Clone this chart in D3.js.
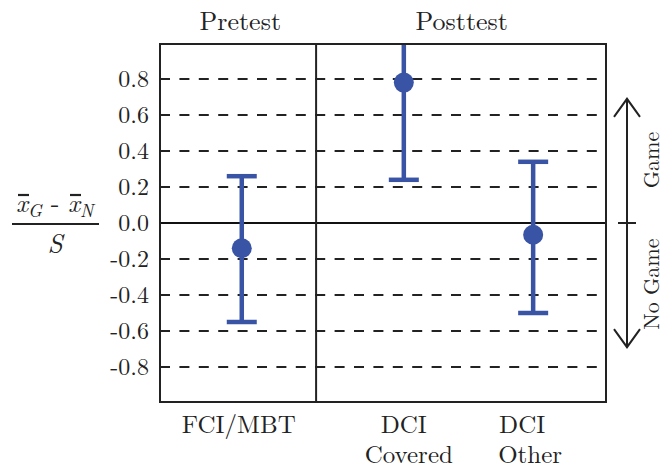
<!DOCTYPE html>
<html><head><meta charset="utf-8">
<script src="https://cdn.jsdelivr.net/npm/d3@7"></script>
<style>body{margin:0;background:#fff}svg{display:block}</style>
</head><body><svg id="c" width="665" height="469"></svg>
<script>
const categories = ["FCI/MBT", "DCI Covered", "DCI Other"];
const catLines = [["FCI/MBT"], ["DCI", "Covered"], ["DCI", "Other"]];
const catX = [1.05, 2.14, 3.01];
const means = [-0.14, 0.78, -0.065];
const lower = [-0.55, 0.24, -0.50];
const upper = [0.26, 1.32, 0.34];
const yTicks = [-0.8, -0.6, -0.4, -0.2, 0.0, 0.2, 0.4, 0.6, 0.8];
const panels = ["Pretest", "Posttest"];
const panelCenters = [1.04, 2.53];

const FONT = "'Latin Modern Roman'";
const svg = d3.select("#c");
const L = 160, R = 606, T = 43, B = 403;
const x = d3.scaleLinear().domain([0.5, 3.5]).range([L, R]);
const y = d3.scaleLinear().domain([-1, 1]).range([B, T]);
const blue = "#3953a5", ink = "#222";

svg.append("defs").append("clipPath").attr("id", "pc")
  .append("rect").attr("x", L).attr("y", T).attr("width", R - L).attr("height", B - T);

// dashed grid lines
svg.append("g").selectAll("line").data(yTicks.filter(d => d !== 0)).join("line")
  .attr("x1", L).attr("x2", R).attr("y1", d => y(d)).attr("y2", d => y(d))
  .attr("stroke", ink).attr("stroke-width", 2).attr("stroke-dasharray", "10,9.4");
// zero line
svg.append("line").attr("x1", L).attr("x2", R).attr("y1", y(0)).attr("y2", y(0))
  .attr("stroke", "#111").attr("stroke-width", 2);

// y axis tick labels
const yAxis = d3.axisLeft(y).tickValues(yTicks).tickFormat(d3.format(".1f")).tickSize(0).tickPadding(11);
const ga = svg.append("g").attr("transform", `translate(${L},0)`).call(yAxis);
ga.attr("font-family", null).attr("font-size", null);
ga.select(".domain").remove();
ga.selectAll("text").style("font-family", FONT).style("font-size", "24px").attr("fill", ink)
  .text(d => d3.format(".1f")(d).replace("−", "-"));

// error bars
const data = categories.map((c, i) => ({c, x: catX[i], m: means[i], lo: lower[i], hi: upper[i]}));
const g = svg.append("g").attr("clip-path", "url(#pc)");
g.selectAll(".v").data(data).join("line")
  .attr("x1", d => x(d.x)).attr("x2", d => x(d.x)).attr("y1", d => y(d.lo)).attr("y2", d => y(d.hi))
  .attr("stroke", blue).attr("stroke-width", 4.5);
const caps = data.flatMap(d => [{x: d.x, v: d.lo}, {x: d.x, v: d.hi}]);
g.selectAll(".cap").data(caps).join("line")
  .attr("x1", d => x(d.x) - 15).attr("x2", d => x(d.x) + 15).attr("y1", d => y(d.v)).attr("y2", d => y(d.v))
  .attr("stroke", blue).attr("stroke-width", 4.5);
g.selectAll("circle").data(data).join("circle")
  .attr("cx", d => x(d.x)).attr("cy", d => y(d.m)).attr("r", 10).attr("fill", blue);

// frame and panel divider
svg.append("rect").attr("x", L).attr("y", T + 1).attr("width", R - L).attr("height", B - T - 2)
  .attr("fill", "none").attr("stroke", ink).attr("stroke-width", 2);
svg.append("line").attr("x1", x(1.55)).attr("x2", x(1.55)).attr("y1", T).attr("y2", B)
  .attr("stroke", ink).attr("stroke-width", 2);

const txt = (sel) => sel.style("font-family", FONT).attr("fill", ink);

// panel titles
svg.selectAll(".pt").data(panels).join("text").call(txt)
  .attr("x", (d, i) => x(panelCenters[i])).attr("y", 30)
  .attr("text-anchor", "middle").style("font-size", "26px").text(d => d);

// category labels (line offsets in px)
const lineDx = [[-3], [0, 5], [-11, -3]];
data.forEach((d, i) => {
  catLines[i].forEach((s, j) => {
    svg.append("text").call(txt).attr("x", x(d.x) + lineDx[i][j]).attr("y", 433 + j * 30)
      .attr("text-anchor", "middle").style("font-size", "25px").text(s);
  });
});

// y label fraction
const fl = svg.append("g");
fl.append("line").attr("x1", 12).attr("x2", 99).attr("y1", 224).attr("y2", 224).attr("stroke", ink).attr("stroke-width", 1.8);
const num = fl.append("text").call(txt).attr("x", 16).attr("y", 212).attr("text-anchor", "start").style("font-size", "26px");
num.append("tspan").attr("font-style", "italic").text("x");
num.append("tspan").attr("font-style", "italic").style("font-size", "18px").attr("dy", 5).text("G");
num.append("tspan").attr("dy", -5).text(" - ");
num.append("tspan").attr("font-style", "italic").text("x");
num.append("tspan").attr("font-style", "italic").style("font-size", "18px").attr("dy", 5).text("N");
fl.append("line").attr("x1", 18).attr("x2", 29).attr("y1", 195).attr("y2", 195).attr("stroke", ink).attr("stroke-width", 2.2);
fl.append("line").attr("x1", 70).attr("x2", 81).attr("y1", 195).attr("y2", 195).attr("stroke", ink).attr("stroke-width", 2.2);
fl.append("text").call(txt).attr("x", 55).attr("y", 253).attr("text-anchor", "middle").style("font-size", "27px").attr("font-style", "italic").text("S");

// right annotation double arrow
const ax = 627, aTop = y(0.69), aBot = y(-0.69);
const an = svg.append("g").attr("stroke", ink).attr("stroke-width", 2).attr("fill", "none");
an.append("line").attr("x1", ax).attr("x2", ax).attr("y1", aTop).attr("y2", aBot);
an.append("path").attr("d", `M${ax - 13},${aTop + 18}L${ax},${aTop}L${ax + 13},${aTop + 18}`);
an.append("path").attr("d", `M${ax - 13},${aBot - 18}L${ax},${aBot}L${ax + 13},${aBot - 18}`);
an.append("line").attr("x1", ax - 9).attr("x2", ax + 9).attr("y1", y(0)).attr("y2", y(0));
svg.append("text").call(txt).attr("transform", `translate(659,${y(0.35)}) rotate(-90)`).attr("text-anchor", "middle").style("font-size", "22px").text("Game");
svg.append("text").call(txt).attr("transform", `translate(659,${y(-0.34)}) rotate(-90)`).attr("text-anchor", "middle").style("font-size", "22px").text("No Game");
</script></body></html>
